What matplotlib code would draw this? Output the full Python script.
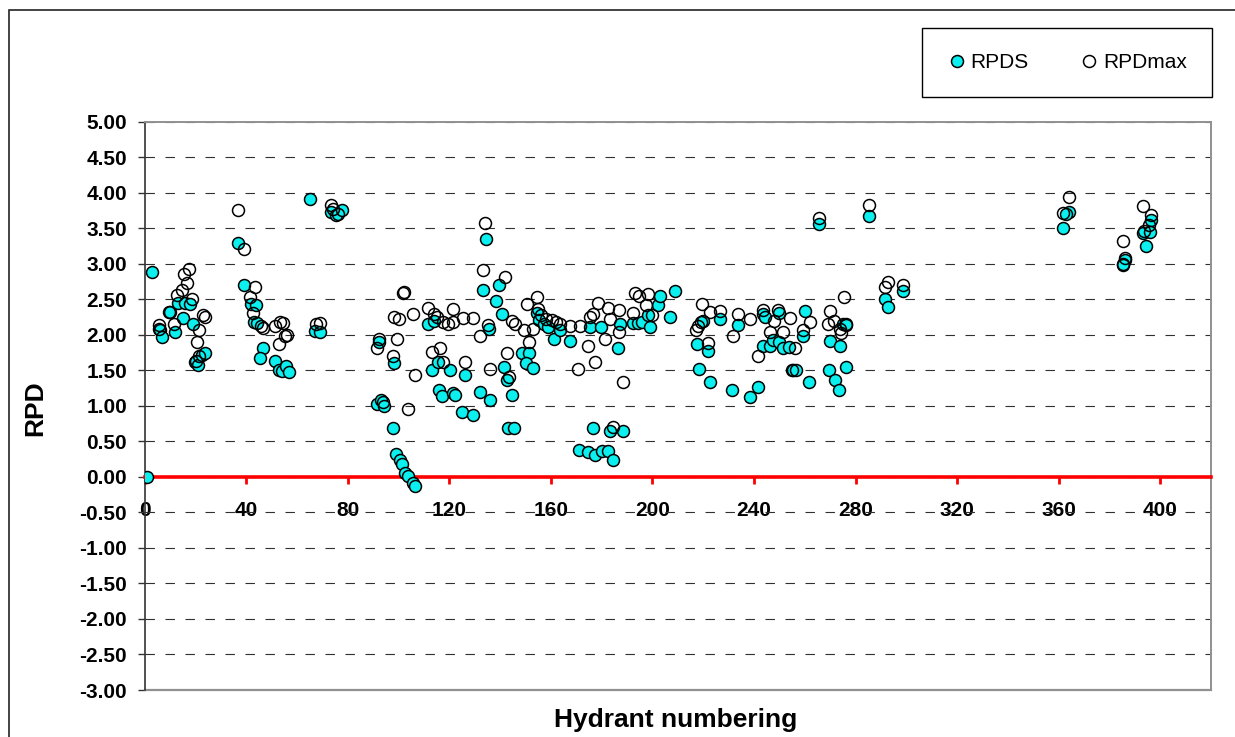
import matplotlib
matplotlib.use('Agg')
import matplotlib.pyplot as plt
from matplotlib.patches import Rectangle

plt.rcParams['font.family'] = ['Liberation Sans', 'DejaVu Sans']

# RPDS values (filled cyan markers)
rpds_x = [1, 3, 6, 7, 10, 12, 13, 15, 16, 18, 19, 20, 21, 22.5, 23.7,
          37, 39, 42, 44, 43, 44.5, 46.8, 45.5, 51.3, 53, 54.3, 55.7, 57,
          65, 67, 69, 73.6, 75.6, 77.6,
          92.3, 91.4, 93.3, 94.2, 98.2, 97.7, 99.2, 100.5, 101.6, 102.5, 103.8, 105.8, 106.4,
          111.7, 113.9, 113.4, 115.6, 120.2, 116, 117.3, 121.5, 122.2, 126.1, 125.2, 129.4,
          132, 136, 134.3, 133.3, 135.6, 139.6, 138.3, 140.6, 141.5, 142.8, 144.9, 143.2, 145.4,
          148.8, 151.4, 150.4, 152.8, 154.6, 155.4, 157.2, 158.9, 161.3, 163.5, 167.5,
          171.1, 174.7, 175.3, 176.6, 177.3, 179.9, 180.3, 182.5, 183.2, 184.5, 186.5, 187.2, 188.5,
          192.4, 194.4, 196.1, 198.3, 199, 202.2, 202.9, 206.8, 208.8,
          220, 226.5, 217.6, 221.9, 218.4, 222.6, 231.5, 233.7, 238.3, 241.6,
          243.6, 244.2, 243.6, 246.2, 247.7, 249.8, 249.8, 251.4, 254, 255.3, 256.4,
          260.3, 259.5, 261.6, 265.6, 270, 275, 276.3, 274, 269.5, 272.1, 273.4, 276.1,
          285.5, 291.5, 292.8, 298.7,
          361.6, 363.9, 362.8, 386.3, 385.5, 396.4, 393.4, 395.8, 394.4]
rpds_y = [0.00, 2.89, 2.07, 1.97, 2.32, 2.04, 2.45, 2.24, 2.45, 2.43, 2.16, 1.62, 1.58, 1.72, 1.74,
          3.29, 2.71, 2.43, 2.42, 2.18, 2.17, 1.82, 1.67, 1.64, 1.50, 1.49, 1.57, 1.48,
          3.92, 2.05, 2.04, 3.73, 3.69, 3.76,
          1.90, 1.03, 1.09, 1.00, 1.61, 0.69, 0.32, 0.24, 0.18, 0.06, 0.01, -0.08, -0.12,
          2.15, 2.20, 1.50, 1.62, 1.50, 1.22, 1.14, 1.18, 1.16, 1.43, 0.92, 0.88,
          1.20, 1.08, 3.35, 2.64, 2.08, 2.71, 2.48, 2.30, 1.55, 1.36, 1.16, 0.69, 0.69,
          1.75, 1.75, 1.61, 1.53, 2.31, 2.21, 2.15, 2.11, 1.95, 2.07, 1.92,
          0.38, 0.35, 2.11, 0.69, 0.31, 2.11, 0.37, 0.37, 0.65, 0.24, 1.81, 2.16, 0.65,
          2.17, 2.17, 2.18, 2.28, 2.11, 2.42, 2.55, 2.26, 2.62,
          2.20, 2.22, 1.87, 1.78, 1.52, 1.34, 1.23, 2.14, 1.13, 1.27,
          2.29, 2.26, 1.84, 1.84, 1.93, 2.31, 1.90, 1.81, 1.83, 1.50, 1.50,
          2.34, 1.98, 1.34, 3.57, 1.92, 2.15, 2.14, 1.85, 1.50, 1.36, 1.23, 1.55,
          3.67, 2.50, 2.39, 2.62,
          3.50, 3.73, 3.70, 3.05, 2.98, 3.62, 3.43, 3.45, 3.26]

# RPDmax values (hollow markers)
rpdmax_x = [5.7, 5.7, 9.6, 11.6, 12.9, 14.9, 15.5, 17.5, 16.8, 18.8, 21.4, 20.8, 23.2, 23.7, 20.1, 21.4,
            36.9, 39, 43.4, 41.6, 42.9, 46.8, 45.8, 51.3, 53.4, 54.7, 53, 56.3, 55.3,
            67.5, 69.2, 73.6, 74.3, 76.3,
            91.4, 92.3, 94, 97.9, 98.2, 100.3, 99.5, 101.8, 102.3, 105.8, 103.8, 106.4,
            111.7, 113.9, 115, 117.6, 119.6, 121.3, 121.5, 125.5, 129.4, 113.4, 116.3, 117.6, 126.1,
            132, 134, 133.3, 135.3, 136, 141.9, 144.9, 145.8, 142.8, 143.6,
            149.3, 150.7, 151.4, 152.8, 154.6, 155, 156.3, 158.3, 160.6, 162, 163.5, 167.5,
            171.4, 170.7, 174.7, 175.3, 176.6, 178.6, 177.3, 181.2, 182.5, 183.2, 184.5,
            186.9, 186.9, 188.5, 192.4, 193, 194.8, 198.3, 197.6, 200,
            217.3, 218, 219.3, 219.7, 222.6, 226.5, 221.9, 231.8, 233.7, 238.3, 241.6,
            243.6, 246.2, 248.1, 249.4, 251.4, 254.3, 256, 255.0,
            261.9, 259.5, 265.6, 270, 269.1, 271.7, 273.7, 274.3, 276.3, 275.3,
            285.5, 291.5, 292.8, 298.7,
            363.9, 361.6, 385.5, 386.3, 385.5, 393.4, 396.4, 393.8, 395.5]
rpdmax_y = [2.14, 2.08, 2.32, 2.16, 2.56, 2.63, 2.86, 2.93, 2.73, 2.51, 2.07, 1.90, 2.28, 2.26, 1.64, 1.71,
            3.76, 3.21, 2.68, 2.54, 2.31, 2.10, 2.13, 2.12, 2.18, 2.17, 1.87, 2.00, 1.98,
            2.16, 2.17, 3.83, 3.78, 3.71,
            1.81, 1.95, 1.06, 1.70, 2.26, 2.22, 1.95, 2.59, 2.60, 2.30, 0.96, 1.43,
            2.38, 2.29, 2.25, 2.18, 2.16, 2.37, 2.18, 2.24, 2.24, 1.76, 1.81, 1.62, 1.62,
            1.98, 3.58, 2.91, 2.14, 1.52, 2.82, 2.20, 2.15, 1.75, 1.41,
            2.07, 2.43, 1.90, 2.09, 2.53, 2.36, 2.28, 2.23, 2.21, 2.18, 2.15, 2.12,
            2.12, 1.52, 1.84, 2.25, 2.30, 2.45, 1.62, 1.95, 2.38, 2.22, 0.70,
            2.35, 2.04, 1.34, 2.31, 2.59, 2.55, 2.58, 2.42, 2.28,
            2.07, 2.12, 2.18, 2.43, 2.32, 2.34, 1.89, 1.98, 2.30, 2.23, 1.71,
            2.35, 2.04, 2.20, 2.35, 2.04, 2.24, 1.81, 1.51,
            2.18, 2.07, 3.65, 2.34, 2.15, 2.20, 2.08, 2.03, 2.16, 2.53,
            3.83, 2.67, 2.75, 2.71,
            3.95, 3.72, 3.33, 3.09, 3.00, 3.81, 3.69, 3.46, 3.55]

x_ticks = list(range(0, 401, 40))
y_ticks = [-3.0 + 0.5 * i for i in range(17)]

W, H = 1235, 737
fig = plt.figure(figsize=(W / 100, H / 100), dpi=100)
ax = fig.add_axes([144.5 / W, 1 - 690 / H, (1211 - 144.5) / W, (690 - 122) / H])

p1, = ax.plot(rpds_x, rpds_y, 'o', ms=8.6, mfc='#0BEFEF', mec='black', mew=1.1, zorder=3)
p2, = ax.plot(rpdmax_x, rpdmax_y, 'o', ms=8.6, mfc='none', mec='black', mew=1.1, zorder=3)

ax.set_xlim(0, 420)
ax.set_ylim(-3, 5)
ax.set_xticks(x_ticks)
ax.set_yticks(y_ticks)
ax.set_yticklabels(['%.2f' % v for v in y_ticks])

ax.yaxis.grid(True, color='#303030', lw=0.8, linestyle=(0, (8.5, 9.5)))
ax.xaxis.grid(False)

ax.spines['bottom'].set_position(('data', 0))
ax.spines['bottom'].set_color('red')
ax.spines['bottom'].set_linewidth(2.6)
ax.spines['left'].set_color('#333333')
ax.spines['left'].set_linewidth(1.2)
for s in ['top', 'right']:
    ax.spines[s].set_color('#909090')
    ax.spines[s].set_linewidth(1.4)
ax.plot([0, 1], [0, 0], transform=ax.transAxes, color='#909090', lw=1.6, clip_on=False, zorder=2.5)

ax.tick_params(axis='x', direction='out', length=5, width=2, color='red', pad=12.5,
               labelsize=15)
ax.tick_params(axis='y', direction='out', length=5, width=1, color='#333333', pad=7.5,
               labelsize=15)
for lab in ax.get_xticklabels() + ax.get_yticklabels():
    lab.set_fontweight('bold')

fig.text(676 / W, 1 - 726.7 / H, 'Hydrant numbering', ha='center', va='baseline',
         fontsize=19, fontweight='bold')
fig.text(35 / W, 1 - 408 / H, 'RPD', ha='center', va='center', rotation=90,
         fontsize=19, fontweight='bold')

leg = fig.legend([p1, p2], ['RPDS', 'RPDmax'], loc='upper left',
                 bbox_to_anchor=(921.7 / W, 1 - 28 / H), ncol=2, fontsize=15,
                 frameon=True, fancybox=False, edgecolor='black', framealpha=1,
                 borderpad=1.2, handlelength=1.0, handletextpad=0.15,
                 columnspacing=2.4, markerscale=1.0, borderaxespad=0)
leg.get_frame().set_linewidth(1.0)

fig.patches.append(Rectangle((9 / W, -0.1), 1.2, 1.1 - 10 / H, transform=fig.transFigure,
                             fill=False, edgecolor='#222222', lw=1.2))

fig.savefig('out.png', dpi=100)
